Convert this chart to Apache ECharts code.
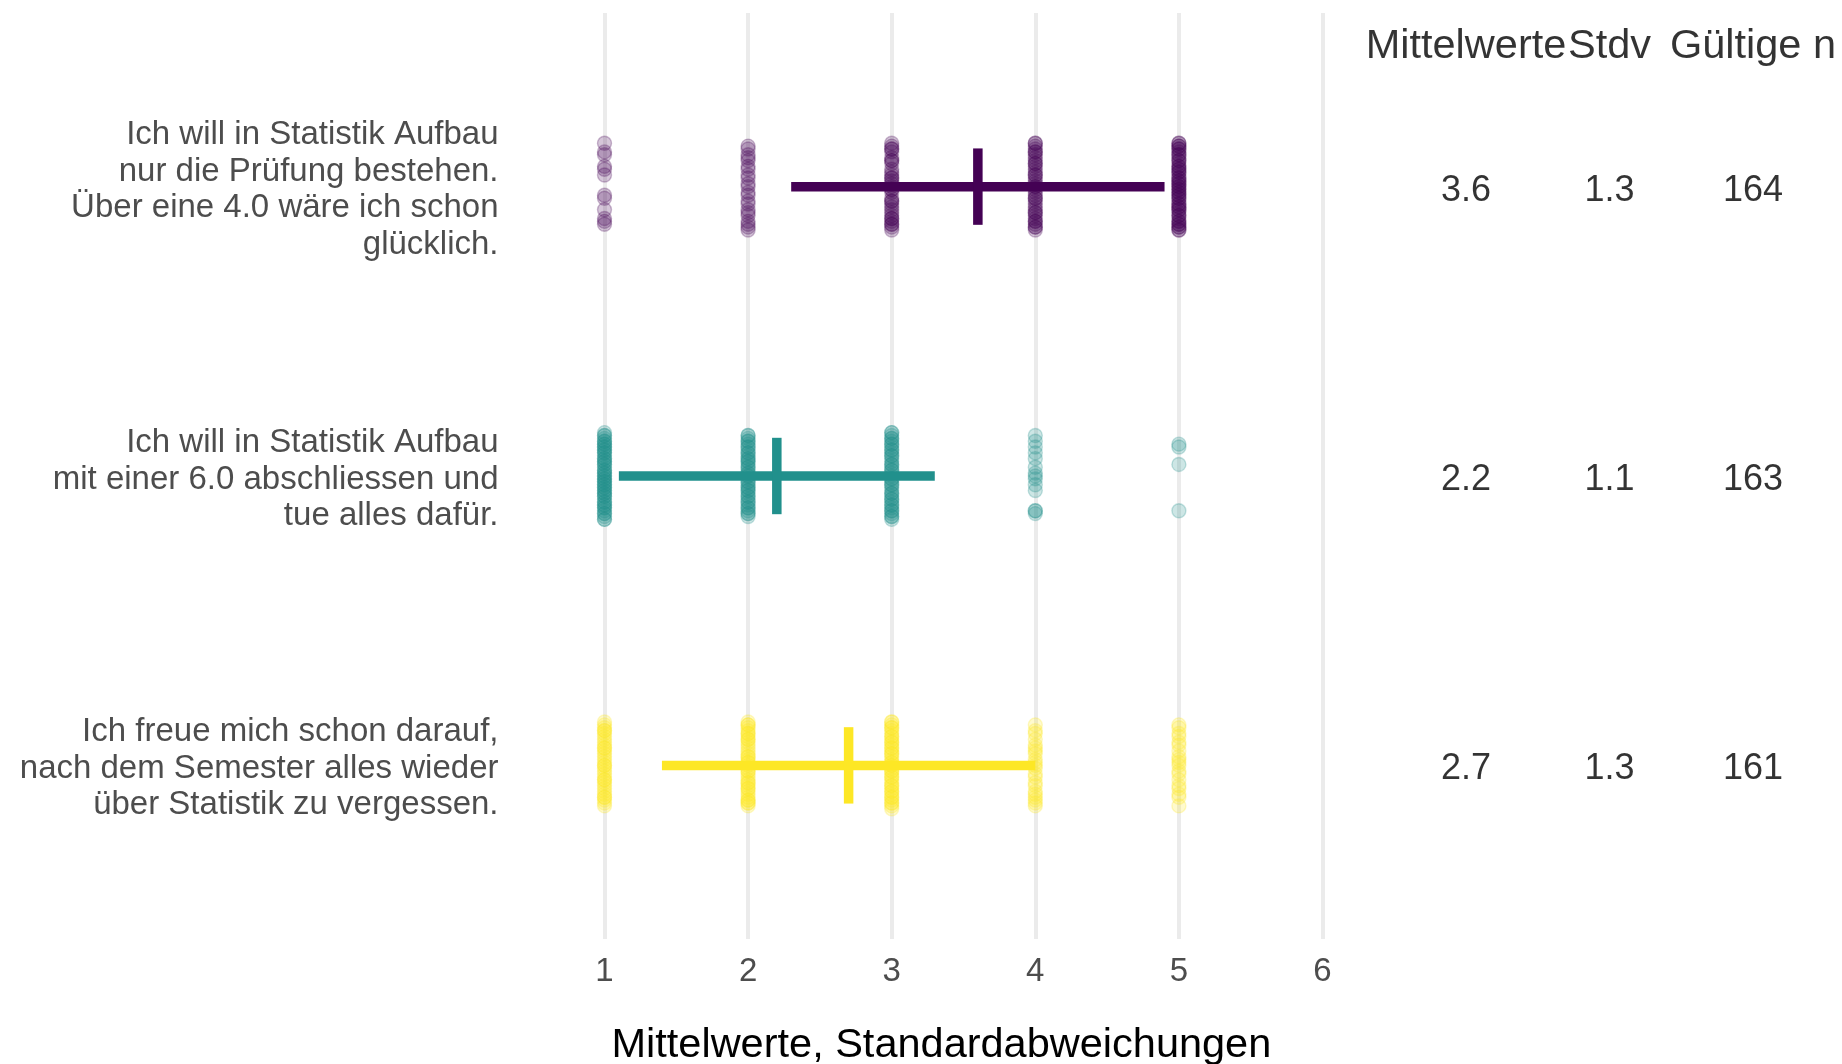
<!DOCTYPE html>
<html>
<head>
<meta charset="utf-8">
<script src="https://cdn.jsdelivr.net/npm/echarts@6/dist/echarts.min.js"></script>
<style>
  html, body { margin: 0; padding: 0; background: #ffffff; }
  #chart { width: 1842px; height: 1064px; }
</style>
</head>
<body>
<div id="chart"></div>
<script>
// Survey items (one row each, top to bottom)
const items = [
  'Ich will in Statistik Aufbau\nnur die Prüfung bestehen.\nÜber eine 4.0 wäre ich schon\nglücklich.',
  'Ich will in Statistik Aufbau\nmit einer 6.0 abschliessen und\ntue alles dafür.',
  'Ich freue mich schon darauf,\nnach dem Semester alles wieder\nüber Statistik zu vergessen.'
];
const means = [3.6, 2.2, 2.7];
const sds = [1.3, 1.1, 1.3];
const validN = [164, 163, 161];
const tableHeaders = ['Mittelwerte', 'Stdv', 'Gültige n'];
const answerValues = [1, 2, 3, 4, 5];
const xTicks = [1, 2, 3, 4, 5, 6];
const itemColors = ['#440154', '#21908C', '#FDE725'];

// Vertical jitter of single answers, in hundredths of a row, grouped by answer 1..5
const jitterItem1 = [
  [-15, -12, -11, -7, -6, -4, 3, 4, 8, 11, 12, 13],
  [-14, -13, -11, -10, -9, -7, -6, -4, -3, -1, 0, 2, 3, 5, 6, 8, 9, 10, 12, 13, 14, 15],
  [-15, -14, -13, -13, -12, -10, -9, -9, -8, -6, -5, -4, -3, -3, -2, 0, 1, 1, 2, 4, 5, 5, 6, 7, 8, 9, 10, 11, 11, 12, 13, 13, 14, 15, -1],
  [-15, -15, -14, -13, -12, -12, -11, -10, -9, -8, -8, -7, -6, -5, -4, -4, -3, -2, -1, 0, 0, 1, 2, 3, 4, 4, 5, 6, 7, 8, 9, 9, 10, 11, 12, 12, 13, 14, 14, 15],
  [-15, -15, -14, -14, -13, -13, -12, -11, -11, -10, -9, -9, -8, -7, -7, -6, -5, -5, -4, -3, -3, -2, -1, -1, 0, 0, 1, 2, 2, 3, 4, 4, 5, 6, 6, 7, 8, 8, 9, 10, 10, 11, 12, 12, 13, 13, 14, 14, 15, 15, -6, 1, 3, -2, 7]
];
const jitterItem2 = [
  [-15, -14, -14, -13, -12, -12, -11, -10, -10, -9, -8, -8, -7, -6, -6, -5, -4, -4, -3, -2, -2, -1, 0, 0, 1, 1, 2, 3, 3, 4, 5, 5, 6, 7, 7, 8, 9, 9, 10, 11, 11, 12, 13, 13, 14, 15, 15, -11, -5, 2, 6, 10, -1, 4, -9],
  [-14, -13, -12, -11, -10, -9, -8, -7, -6, -5, -4, -3, -2, -1, 0, 1, 2, 3, 4, 5, 6, 7, 8, 9, 10, 11, 12, 13, 14, -12, -8, -3, 2, 7, 11, -10, -6, -1, 5, 9, 13, -14, 4, 0, -5],
  [-15, -14, -13, -12, -11, -10, -9, -8, -7, -6, -5, -4, -3, -2, -1, 0, 1, 2, 3, 4, 5, 6, 7, 8, 9, 10, 11, 12, 13, 14, 15, -13, -9, -4, 1, 6, 10, 14, -11, -2, 3, 8, 12, -7, -15],
  [-14, -12, -10, -8, -6, -3, -1, 0, 1, 3, 5, 12, 12, 13],
  [-11, -10, -4, 12]
];
const jitterItem3 = [
  [-15, -14, -13, -12, -11, -10, -9, -8, -7, -6, -5, -4, -3, -2, -1, 0, 1, 2, 3, 4, 5, 6, 7, 8, 9, 10, 11, 12, 13, 14, -12, -6, 0, 5, 11],
  [-15, -14, -13, -12, -11, -10, -9, -8, -7, -6, -5, -4, -3, -2, -1, 0, 1, 2, 3, 4, 5, 6, 7, 8, 9, 10, 11, 12, 13, 14, -14, -9, -3, 2, 8, 13, -11, -1, 6, 12],
  [-15, -14, -13, -12, -11, -10, -9, -8, -7, -6, -5, -4, -3, -2, -1, 0, 1, 2, 3, 4, 5, 6, 7, 8, 9, 10, 11, 12, 13, 14, 15, -13, -8, -4, 0, 4, 9, 13, -10, -1, 7, -15, 2, 11, -6],
  [-14, -12, -11, -9, -7, -6, -4, -2, -1, 0, 1, 3, 4, 6, 7, 9, 10, 11, 12, 13, 14, -5],
  [-14, -13, -11, -10, -8, -7, -5, -3, -2, -1, 0, 2, 3, 5, 7, 8, 10, 11, 14]
];
const jitters = [jitterItem1, jitterItem2, jitterItem3];

const FONT = '"Liberation Sans", Arial, Helvetica, sans-serif';

function rgba(hex, a) {
  const n = parseInt(hex.slice(1), 16);
  return 'rgba(' + ((n >> 16) & 255) + ',' + ((n >> 8) & 255) + ',' + (n & 255) + ',' + a + ')';
}

// Jittered single answers per item
const pointSeries = items.map(function (label, i) {
  const data = [];
  answerValues.forEach(function (v, k) {
    jitters[i][k].forEach(function (j) {
      data.push([v, i + 1 + j / 100]);
    });
  });
  return {
    type: 'scatter',
    xAxisIndex: 0,
    yAxisIndex: 0,
    data: data,
    symbol: 'circle',
    symbolSize: 14,
    silent: true,
    z: 2,
    itemStyle: {
      color: rgba(itemColors[i], 0.28),
      borderColor: rgba(itemColors[i], 0.32),
      borderWidth: 1.4
    }
  };
});

// Mean ± standard deviation bars with a vertical mark at the mean
const barSeries = {
  type: 'custom',
  xAxisIndex: 0,
  yAxisIndex: 0,
  silent: true,
  z: 5,
  data: items.map(function (label, i) { return [i + 1, means[i], sds[i]]; }),
  encode: { x: 1, y: 0 },
  renderItem: function (params, api) {
    const row = api.value(0), m = api.value(1), s = api.value(2);
    const color = itemColors[params.dataIndex];
    const lo = api.coord([m - s, row]);
    const hi = api.coord([m + s, row]);
    const top = api.coord([m, row - 0.132]);
    const bot = api.coord([m, row + 0.132]);
    const thick = 9.5;
    return {
      type: 'group',
      children: [
        { type: 'rect', shape: { x: lo[0], y: lo[1] - thick / 2, width: hi[0] - lo[0], height: thick }, style: { fill: color } },
        { type: 'rect', shape: { x: top[0] - thick / 2, y: top[1], width: thick, height: bot[1] - top[1] }, style: { fill: color } }
      ]
    };
  }
};

// Summary table to the right of the plot
const tableCells = [];
items.forEach(function (label, i) {
  tableCells.push([7, i + 1, means[i].toFixed(1)]);
  tableCells.push([8, i + 1, sds[i].toFixed(1)]);
  tableCells.push([9, i + 1, String(validN[i])]);
});
const tableSeries = {
  type: 'scatter',
  xAxisIndex: 1,
  yAxisIndex: 1,
  silent: true,
  symbolSize: 0,
  data: tableCells,
  label: {
    show: true,
    position: 'inside',
    offset: [0, 4],
    formatter: function (p) { return p.value[2]; },
    color: '#000000',
    fontFamily: FONT,
    fontSize: 36
  }
};
const headerSeries = {
  type: 'scatter',
  xAxisIndex: 1,
  yAxisIndex: 1,
  silent: true,
  symbolSize: 0,
  data: tableHeaders.map(function (h, k) { return [7 + k, 0.5, h]; }),
  label: {
    show: true,
    position: 'inside',
    offset: [0, 5],
    formatter: function (p) { return p.value[2]; },
    color: '#000000',
    fontFamily: FONT,
    fontSize: 41.5
  }
};

const chart = echarts.init(document.getElementById('chart'), null, { renderer: 'canvas' });
chart.setOption({
  backgroundColor: '#ffffff',
  animation: false,
  grid: [
    { left: 604.5, right: 519.5, top: 13, height: 926, containLabel: false },
    { left: 1466, right: 89, top: 13, height: 926, containLabel: false }
  ],
  xAxis: [
    {
      type: 'value', gridIndex: 0, min: xTicks[0], max: xTicks[xTicks.length - 1], interval: 1,
      axisLine: { show: false }, axisTick: { show: false },
      axisLabel: { color: '#4d4d4d', fontFamily: FONT, fontSize: 33, margin: 16.5 },
      splitLine: { show: true, lineStyle: { color: '#ebebeb', width: 4 } }
    },
    {
      type: 'value', gridIndex: 1, min: 7, max: 9, show: false
    }
  ],
  yAxis: [
    {
      type: 'value', gridIndex: 0, min: 0.4, max: 3.6, inverse: true,
      axisLine: { show: false }, axisTick: { show: false }, splitLine: { show: false },
      axisLabel: {
        // item labels sit a touch below each row's centre line
        customValues: [1.012, 2.012, 3.012],
        formatter: function (v) { return items[Math.round(v) - 1] || ''; },
        color: '#4d4d4d', fontFamily: FONT, fontSize: 33, lineHeight: 36.5,
        align: 'right', margin: 106
      }
    },
    {
      type: 'value', gridIndex: 1, min: 0.4, max: 3.6, inverse: true, show: false
    }
  ],
  series: pointSeries.concat([barSeries, tableSeries, headerSeries]),
  graphic: [
    {
      type: 'text', left: 941.5 - 330, top: 1043 - 18, silent: true,
      style: {
        text: 'Mittelwerte, Standardabweichungen',
        fill: '#000000', font: '41.5px ' + FONT,
        width: 660, align: 'center'
      }
    }
  ]
});
</script>
</body>
</html>
